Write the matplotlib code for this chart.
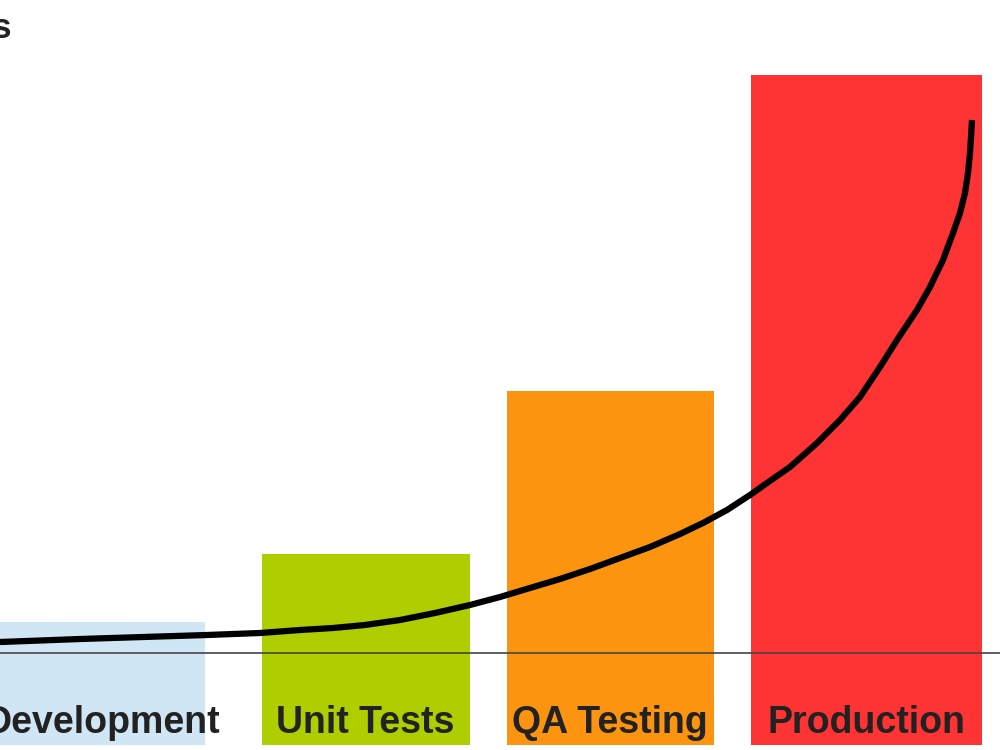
import matplotlib.pyplot as plt

plt.rcParams["font.family"] = ["Liberation Sans", "DejaVu Sans"]

# phases and relative cost of fixing a bug (baseline = 0)
phases = ["Development", "Unit Tests", "QA Testing", "Production"]
cost = [31, 99, 262, 578]
colors = ["#d0e6f5", "#afce00", "#fc940f", "#fe3334"]

# bar layout (left edge, width)
lefts = [0, 262, 507, 751]
widths = [205, 208, 207, 231]
bar_bottom = -92

# cost curve
curve_x = [0, 27, 80, 207, 260, 300, 333, 365, 400, 435, 470, 500, 530,
           560, 590, 620, 650, 680, 703, 727, 750, 767, 790, 817, 840,
           860, 880, 897, 917, 930, 943, 953, 960, 965, 968, 970, 971, 972]
curve_y = [11, 12, 14, 18, 20, 23, 25, 28, 33, 40, 48, 56, 65,
           74, 84, 95, 106, 119, 130, 143, 158, 170, 186, 210, 233,
           256, 286, 313, 343, 366, 393, 420, 440, 460, 480, 500, 516, 533]

fig = plt.figure(figsize=(10, 7.5), dpi=100)
ax = fig.add_axes([0, 0, 1, 1])

for left, w, c, col in zip(lefts, widths, cost, colors):
    ax.bar(left, c - bar_bottom, width=w, bottom=bar_bottom, align="edge",
           color=col, zorder=1)

label_x = [102, 365, 610, 866]
for name, lx in zip(phases, label_x):
    ax.text(lx, -70, name, ha="center", va="center", fontsize=27,
            fontweight="bold", color="#222222", zorder=4)

ax.axhline(0, color="#444444", lw=1.2, zorder=2)
ax.plot(curve_x, curve_y, color="black", lw=4.5, solid_capstyle="butt",
        solid_joinstyle="round", zorder=3)

ax.text(12, 624, "Costs", ha="right", va="center", fontsize=25,
        fontweight="bold", color="#222222")

ax.set_xlim(0, 1000)
ax.set_ylim(-97, 653)
ax.axis("off")

plt.savefig("out.png")
plt.close()
